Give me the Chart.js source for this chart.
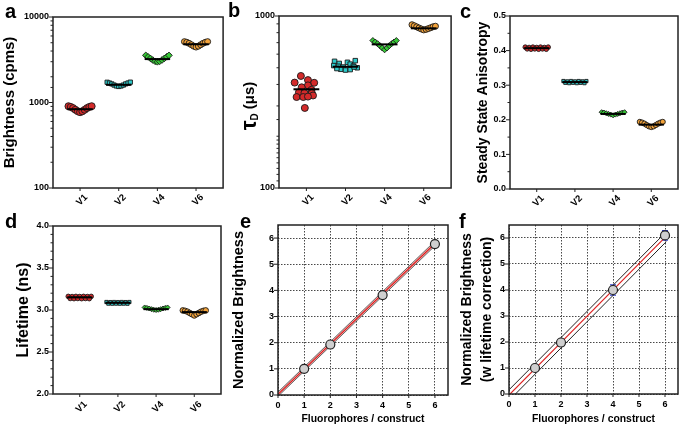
<!DOCTYPE html>
<html>
<head>
<meta charset="utf-8">
<script src="https://cdn.jsdelivr.net/npm/chart.js@4.4.1/dist/chart.umd.min.js"></script>
<style>
body{margin:0;background:#fff;width:685px;height:426px;position:relative;overflow:hidden;font-family:"Liberation Sans",Arial,sans-serif;}
canvas{position:absolute;}
.lt{position:absolute;font-weight:bold;font-size:20px;line-height:20px;color:#000;}
</style>
</head>
<body>
<canvas id="ca" width="228" height="212" style="left:0;top:0"></canvas>
<canvas id="cb" width="228" height="212" style="left:228px;top:0"></canvas>
<canvas id="cc" width="229" height="212" style="left:456px;top:0"></canvas>
<canvas id="cd" width="228" height="214" style="left:0;top:212px"></canvas>
<canvas id="ce" width="228" height="214" style="left:228px;top:212px"></canvas>
<canvas id="cf" width="229" height="214" style="left:456px;top:212px"></canvas>
<div class="lt" style="left:5px;top:1px">a</div>
<div class="lt" style="left:228px;top:0px">b</div>
<div class="lt" style="left:460px;top:1px">c</div>
<div class="lt" style="left:5px;top:211px">d</div>
<div class="lt" style="left:240px;top:211px">e</div>
<div class="lt" style="left:459px;top:211px">f</div>
<script>

let groups = ["V1","V2","V4","V6"];
let colors = ["#d42a2a","#2ccaca","#36c936","#f2a23a"];
let shapes = ["circle","rect","rectRot","circle"];

// x offsets of the swarm points inside a column (in column units)
let swarm11 = [-0.3,-0.24,-0.18,-0.12,-0.06,0,0.06,0.12,0.18,0.24,0.3];
let band13 = [-0.3,-0.2,-0.1,0,0.1,0.2,0.3,-0.25,-0.15,-0.05,0.05,0.15,0.25];

/* ---- a : brightness (cpms) ---- */
let aV1 = [905,888,860,822,790,770,790,822,860,888,905];
let aV2 = [1725,1690,1650,1600,1560,1540,1560,1600,1650,1690,1730];
let aV4 = [3560,3420,3280,3140,3030,2990,3030,3140,3280,3420,3560];
let aV6 = [5150,5060,4920,4740,4560,4450,4560,4740,4920,5060,5150];
let aMed = [835,1610,3220,4800];

/* ---- b : tau D (us) ---- */
let bV1 = [448,424,410,409,395,385,372,360,357,356,345,338,338,340,292];
let bV1dx = [-0.14,0.04,-0.3,0.2,0.04,-0.12,0.13,-0.19,-0.05,0.14,0.17,-0.25,-0.08,0.04,-0.04];
let bV2 = [545,530,538,525,550,515,510,505,512,500,490,485,488,495,505];
let bV2dx = [-0.28,-0.16,0.05,0.12,0.25,-0.3,-0.18,-0.06,0.2,0.3,-0.12,0.0,0.12,-0.22,0.22];
let bV4 = [720,706,690,672,652,636,652,672,690,706,720];
let bV6 = [890,878,865,852,840,830,836,845,855,866,872];
let bMed = [375,507,684,848];

/* ---- c : steady state anisotropy ---- */
let cV1 = [0.410,0.409,0.410,0.409,0.410,0.409,0.410,0.405,0.404,0.405,0.404,0.405,0.404];
let cV2 = [0.312,0.311,0.312,0.311,0.312,0.311,0.312,0.307,0.306,0.307,0.306,0.307,0.306];
let cV4 = [0.222,0.221,0.219,0.217,0.215,0.213,0.215,0.217,0.219,0.221,0.222];
let cV6 = [0.194,0.192,0.189,0.185,0.181,0.179,0.181,0.185,0.189,0.192,0.194];
let cMed = [0.407,0.309,0.217,0.186];

/* ---- d : lifetime (ns) ---- */
let dV1 = [3.162,3.160,3.162,3.160,3.162,3.160,3.162,3.137,3.135,3.137,3.135,3.137,3.135];
let dV2 = [3.095,3.094,3.095,3.094,3.095,3.094,3.095,3.076,3.075,3.076,3.075,3.076,3.075];
let dV4 = [3.03,3.025,3.018,3.01,3.003,3.0,3.003,3.01,3.018,3.025,3.03];
let dV6 = [2.995,2.99,2.98,2.965,2.95,2.935,2.95,2.965,2.98,2.99,2.995];
let dMed = [3.15,3.085,3.01,2.975];

/* ---- e / f : normalized brightness ---- */
let fluor = [1,2,4,6];
let eMean = [1.0,1.93,3.82,5.77];
let eErr = [0.03,0.04,0.13,0.10];
let fMean = [1.0,1.98,4.0,6.1];
let fErr = [0.03,0.05,0.2,0.18];
let fitX = [0,6.05];
let eFit = [0.03,5.84];
let eHi = [0.11,5.93];
let eLo = [-0.05,5.75];
let fFit = [-0.04,6.07];
let fHi = [0.16,6.24];
let fLo = [-0.25,5.86];


Chart.defaults.font.family = '"Liberation Sans", Arial, sans-serif';
Chart.defaults.font.weight = "bold";
Chart.defaults.color = "#000";

let framePlugin = {
id:"frame",
afterDraw(chart, args, opts){
let ctx = chart.ctx;
let ca = chart.chartArea;
let x = chart.scales.x, y = chart.scales.y;
ctx.save();
ctx.strokeStyle = "#222";
ctx.lineWidth = 1.5;
ctx.strokeRect(ca.left, ca.top, ca.right-ca.left, ca.bottom-ca.top);
ctx.lineWidth = 1;
function seg(x1,y1,x2,y2){ ctx.beginPath(); ctx.moveTo(x1,y1); ctx.lineTo(x2,y2); ctx.stroke(); }
let yt = y.ticks.map(t=>t.value);
yt.forEach(v=>{
let major = true;
if(opts.log){ let l = Math.log10(v); major = Math.abs(l-Math.round(l)) < 1e-6; }
let p = y.getPixelForValue(v);
seg(ca.left-(major?4:2.5), p, ca.left, p);
});
if(opts.minor){
for(let i=0;i<yt.length-1;i++){
for(let k=1;k<=opts.minor;k++){
let p = y.getPixelForValue(yt[i]+(yt[i+1]-yt[i])*k/(opts.minor+1));
seg(ca.left-2.5, p, ca.left, p);
}
}
}
x.ticks.forEach(t=>{
let p = x.getPixelForValue(t.value);
seg(p, ca.bottom, p, ca.bottom+3);
});
// rotated column names under the category axis
if(opts.cats){
ctx.fillStyle = "#000";
ctx.font = 'bold 9.5px "Liberation Sans"';
ctx.textAlign = "right";
ctx.textBaseline = "middle";
x.ticks.forEach(t=>{
let p = x.getPixelForValue(t.value);
ctx.save();
ctx.translate(p+6, ca.bottom+opts.cats);
ctx.rotate(-Math.PI/4);
ctx.fillText(groups[Math.round(t.value)-1], 0, 0);
ctx.restore();
});
}
if(opts.tau){
ctx.translate(opts.tau, (ca.top+ca.bottom)/2+4);
ctx.rotate(-Math.PI/2);
ctx.fillStyle = "#000";
ctx.textAlign = "left";
ctx.textBaseline = "middle";
let f1 = 'bold 22px "Liberation Sans"', f2 = 'bold 10px "Liberation Sans"', f3 = 'bold 15px "Liberation Sans"';
ctx.font = f1; let w1 = ctx.measureText("τ").width;
ctx.font = f2; let w2 = ctx.measureText("D").width;
ctx.font = f3; let w3 = ctx.measureText(" (μs)").width;
let sx = -(w1+w2+w3)/2;
ctx.font = f1; ctx.fillText("τ", sx, 0); sx += w1;
ctx.font = f2; ctx.fillText("D", sx, 5); sx += w2;
ctx.font = f3; ctx.fillText(" (μs)", sx, 0);
}
ctx.restore();
}
};

let errPlugin = {
id:"errbars",
beforeDatasetsDraw(chart, args, opts){
if(!opts.mean) return;
let ctx = chart.ctx;
let x = chart.scales.x, y = chart.scales.y;
ctx.save();
ctx.lineWidth = 1.2;
opts.xs.forEach((xv,i)=>{
let px = x.getPixelForValue(xv);
let top = y.getPixelForValue(opts.mean[i]+opts.err[i]);
let bot = y.getPixelForValue(opts.mean[i]-opts.err[i]);
ctx.strokeStyle = opts.colors[i];
ctx.beginPath();
ctx.moveTo(px,top); ctx.lineTo(px,bot);
ctx.moveTo(px-3,top); ctx.lineTo(px+3,top);
ctx.moveTo(px-3,bot); ctx.lineTo(px+3,bot);
ctx.stroke();
});
ctx.restore();
}
};


function swarm(vals, dx, k, r){
return {
data: vals.map((v,j)=>({x:k+1+dx[j], y:v})),
pointStyle: shapes[k],
pointRadius: r,
backgroundColor: colors[k],
borderColor: "#1a1a1a",
borderWidth: 0.9,
order: 2
};
}

function median(m, k){
return {
data: [{x:k+0.67, y:m},{x:k+1.33, y:m}],
showLine: true,
borderColor: "#000",
borderWidth: 2,
pointRadius: 0,
order: 1
};
}

function catX(h){
return {
type:"linear", min:0.3, max:4.7,
afterBuildTicks: s=>{ s.ticks = groups.map((g,i)=>({value:i+1})); },
ticks:{ display:false },
grid:{ display:false, drawTicks:false },
border:{ display:false },
afterFit: s=>{ s.height = h; }
};
}

function swarmChart(id, sets, yScale, pad, xh, frameOpts){
new Chart(document.getElementById(id),{
type:"scatter",
data:{ datasets: sets },
options:{
responsive:false,
animation:false,
layout:{ padding: pad },
plugins:{ legend:{display:false}, tooltip:{enabled:false}, frame: frameOpts },
scales:{ x: catX(xh), y: yScale }
},
plugins:[framePlugin]
});
}

function powLabel(v){
let l = Math.log10(v);
return Math.abs(l-Math.round(l)) < 1e-6 ? String(Math.round(v)) : "";
}

/* a */
swarmChart("ca",[
swarm(aV1,swarm11,0,3.5), swarm(aV2,swarm11,1,3), swarm(aV4,swarm11,2,3.3), swarm(aV6,swarm11,3,3),
median(aMed[0],0), median(aMed[1],1), median(aMed[2],2), median(aMed[3],3)
],{
type:"logarithmic", min:100, max:10000,
ticks:{ callback: powLabel, padding:4, autoSkip:false, font:{size:9} },
grid:{ display:false, drawTicks:false }, border:{ display:false },
title:{ display:true, text:"Brightness (cpms)", font:{size:15}, padding:{top:1.3, bottom:0} },
afterFit: s=>{ s.width = 53; }
},{top:17, right:1, left:0, bottom:0}, 24, {log:true, cats:8});

/* b */
swarmChart("cb",[
swarm(bV1,bV1dx,0,3.5), swarm(bV2,bV2dx,1,3.2), swarm(bV4,swarm11,2,3), swarm(bV6,swarm11,3,3),
median(bMed[0],0), median(bMed[1],1), median(bMed[2],2), median(bMed[3],3)
],{
type:"logarithmic", min:100, max:1000,
ticks:{ callback: powLabel, padding:4, autoSkip:false, font:{size:9} },
grid:{ display:false, drawTicks:false }, border:{ display:false },
afterFit: s=>{ s.width = 51; }
},{top:16, right:3, left:0, bottom:0}, 24, {log:true, tau:22, cats:8});

/* c */
swarmChart("cc",[
swarm(cV1,band13,0,2.3), swarm(cV2,band13,1,2.3), swarm(cV4,swarm11,2,2.5), swarm(cV6,swarm11,3,2.6),
median(cMed[0],0), median(cMed[1],1), median(cMed[2],2), median(cMed[3],3)
],{
type:"linear", min:0, max:0.5,
ticks:{ stepSize:0.1, callback: v=>v.toFixed(1), padding:4, font:{size:9} },
grid:{ display:false, drawTicks:false }, border:{ display:false },
title:{ display:true, text:"Steady State Anisotropy", font:{size:14}, padding:{top:18.9, bottom:0} },
afterFit: s=>{ s.width = 54; }
},{top:16, right:7, left:0, bottom:0}, 23, {minor:1, cats:8});

/* d */
swarmChart("cd",[
swarm(dV1,band13,0,2.3), swarm(dV2,band13,1,2.3), swarm(dV4,swarm11,2,2.5), swarm(dV6,swarm11,3,2.8),
median(dMed[0],0), median(dMed[1],1), median(dMed[2],2), median(dMed[3],3)
],{
type:"linear", min:2, max:4,
ticks:{ stepSize:0.5, callback: v=>v.toFixed(1), padding:4, font:{size:9} },
grid:{ display:false, drawTicks:false }, border:{ display:false },
title:{ display:true, text:"Lifetime (ns)", font:{size:16}, padding:{top:14, bottom:0} },
afterFit: s=>{ s.width = 53; }
},{top:14, right:7, left:0, bottom:0}, 32, {minor:4, cats:9});


function lineSet(ys, color, w, extra){
return Object.assign({
type:"line",
data: [{x:fitX[0], y:ys[0]},{x:fitX[1], y:ys[1]}],
borderColor: color, borderWidth: w, pointRadius: 0, fill:false
}, extra || {});
}

function normScales(title, titleSize, titlePad, yw, xh){
return {
x:{
type:"linear", min:0, max:6.5,
ticks:{ stepSize:1, includeBounds:false, padding:5, font:{size:9} },
grid:{ color:"#333", lineWidth:0.9, drawTicks:false },
border:{ display:false, dash:[1.5,1.5] },
title:{ display:true, text:"Fluorophores / construct", font:{size:10.4}, padding:{top:0, bottom:1} },
afterFit: s=>{ s.height = xh; }
},
y:{
type:"linear", min:0, max:6.5,
ticks:{ stepSize:1, includeBounds:false, padding:4, font:{size:9} },
grid:{ color:"#333", lineWidth:0.9, drawTicks:false },
border:{ display:false, dash:[1.5,1.5] },
title:{ display:true, text:title, font:{size:titleSize, lineHeight:1.43}, padding:{top:titlePad, bottom:0} },
afterFit: s=>{ s.width = yw; }
}
};
}

function pointSet(means){
return {
type:"scatter",
data: fluor.map((x,i)=>({x:x, y:means[i]})),
pointRadius: 4.5,
backgroundColor: "#cfcfcf",
borderColor: "#222",
borderWidth: 1.2
};
}

/* e */
new Chart(document.getElementById("ce"),{
type:"scatter",
data:{ datasets:[
pointSet(eMean),
lineSet(eFit, "#d22", 1.2),
lineSet(eHi, "#444", 0.8),
lineSet(eLo, "#444", 0.8, {fill:"-1", backgroundColor:"rgba(225,120,120,0.5)"})
]},
options:{
responsive:false,
animation:false,
layout:{ padding:{top:13, right:8, left:0, bottom:0} },
plugins:{ legend:{display:false}, tooltip:{enabled:false},
errbars:{ xs:fluor, mean:eMean, err:eErr, colors:["#222","#222","#222","#222"] } },
scales: normScales("Normalized Brightness", 14.5, 1.1, 50, 31)
},
plugins:[errPlugin, framePlugin]
});

/* f */
new Chart(document.getElementById("cf"),{
type:"scatter",
data:{ datasets:[
pointSet(fMean),
lineSet(fFit, "#d22", 1.2),
lineSet(fHi, "#222", 1),
lineSet(fLo, "#222", 1)
]},
options:{
responsive:false,
animation:false,
layout:{ padding:{top:13, right:7, left:0, bottom:0} },
plugins:{ legend:{display:false}, tooltip:{enabled:false},
errbars:{ xs:fluor, mean:fMean, err:fErr, colors:["#222","#222","#3340c8","#3340c8"] } },
scales: normScales(["Normalized Brightness","(w lifetime correction)"], 14, 1.5, 53, 32)
},
plugins:[errPlugin, framePlugin]
});

</script>
</body>
</html>
